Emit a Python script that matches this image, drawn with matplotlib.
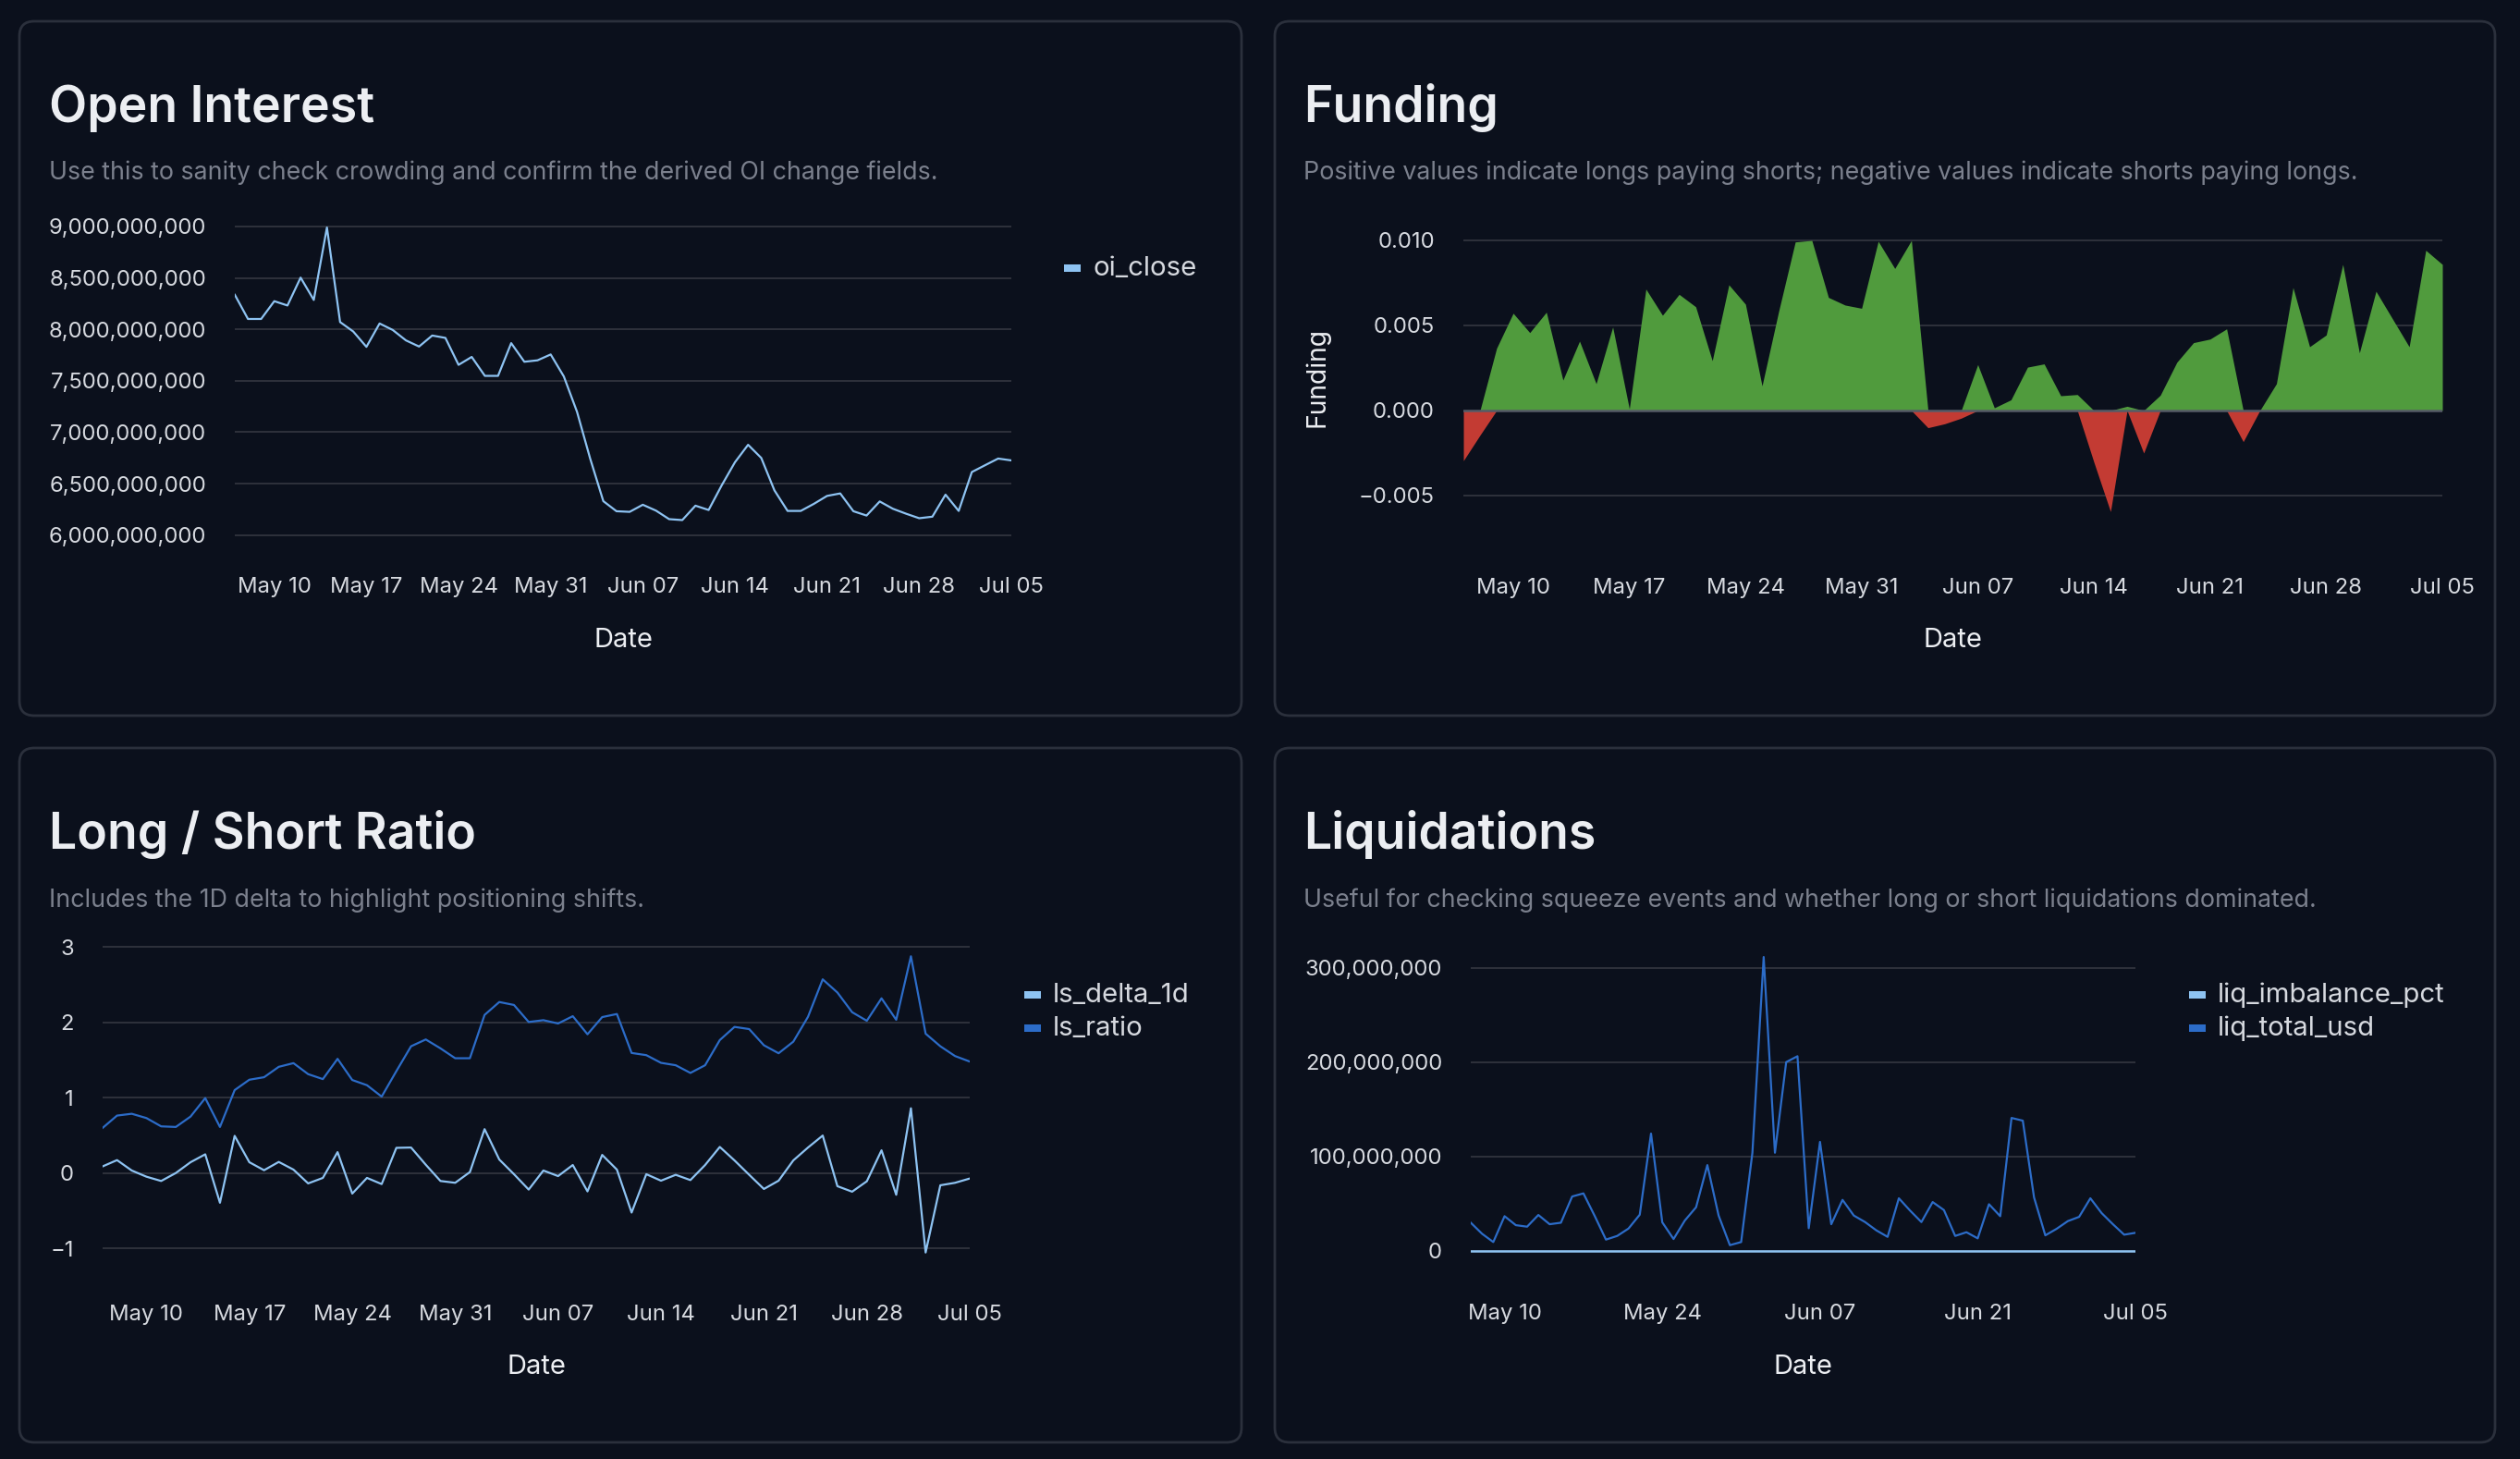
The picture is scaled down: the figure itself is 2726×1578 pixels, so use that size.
import numpy as np
import pandas as pd
import matplotlib.pyplot as plt
import matplotlib.dates as mdates
from matplotlib.patches import FancyBboxPatch, Rectangle
from matplotlib.transforms import IdentityTransform
from matplotlib.ticker import FuncFormatter

# ---------------- data ----------------
dates = pd.date_range("2026-05-07", "2026-07-05", freq="D")

oi_close = [
    8.336e9, 8.101e9, 8.101e9, 8.274e9, 8.232e9, 8.503e9, 8.286e9, 8.990e9, 8.071e9, 7.979e9,
    7.830e9, 8.057e9, 7.994e9, 7.893e9, 7.833e9, 7.940e9, 7.917e9, 7.655e9, 7.732e9, 7.548e9,
    7.548e9, 7.866e9, 7.685e9, 7.699e9, 7.756e9, 7.542e9, 7.199e9, 6.744e9, 6.330e9, 6.232e9,
    6.226e9, 6.295e9, 6.238e9, 6.155e9, 6.146e9, 6.286e9, 6.244e9, 6.485e9, 6.708e9, 6.878e9,
    6.750e9, 6.435e9, 6.235e9, 6.235e9, 6.304e9, 6.381e9, 6.405e9, 6.232e9, 6.190e9, 6.327e9,
    6.256e9, 6.208e9, 6.164e9, 6.179e9, 6.393e9, 6.235e9, 6.613e9, 6.679e9, 6.744e9, 6.726e9,
]

funding = [
    -0.00295, -0.00145, 0.00366, 0.00572, 0.00458, 0.00578, 0.00179, 0.00408, 0.00158, 0.00491,
    0.00010, 0.00714, 0.00560, 0.00683, 0.00610, 0.00293, 0.00739, 0.00625, 0.00145, 0.00583,
    0.00991, 0.01000, 0.00665, 0.00620, 0.00601, 0.00995, 0.00835, 0.01000, -0.00101, -0.00078,
    -0.00045, 0.00270, 0.00016, 0.00063, 0.00255, 0.00274, 0.00087, 0.00094, -0.00304, -0.00594,
    0.00025, -0.00250, 0.00090, 0.00284, 0.00399, 0.00420, 0.00480, -0.00183, 0.00000, 0.00158,
    0.00723, 0.00375, 0.00444, 0.00859, 0.00339, 0.00701, 0.00538, 0.00375, 0.00942, 0.00859,
]

ls_ratio = [
    0.595, 0.762, 0.786, 0.729, 0.619, 0.611, 0.749, 0.994, 0.611, 1.100,
    1.238, 1.271, 1.409, 1.458, 1.312, 1.246, 1.515, 1.234, 1.165, 1.014,
    1.352, 1.682, 1.772, 1.654, 1.523, 1.523, 2.098, 2.269, 2.230, 2.004,
    2.028, 1.984, 2.081, 1.841, 2.069, 2.110, 1.593, 1.564, 1.462, 1.430,
    1.328, 1.430, 1.764, 1.939, 1.910, 1.695, 1.589, 1.743, 2.073, 2.570,
    2.395, 2.134, 2.020, 2.318, 2.033, 2.876, 1.849, 1.682, 1.552, 1.479,
]

ls_delta_1d = [
    0.086, 0.171, 0.033, -0.049, -0.106, 0.000, 0.143, 0.248, -0.395, 0.493,
    0.143, 0.037, 0.147, 0.045, -0.138, -0.065, 0.277, -0.273, -0.065, -0.147,
    0.334, 0.338, 0.110, -0.106, -0.130, 0.012, 0.582, 0.179, -0.016, -0.220,
    0.033, -0.041, 0.106, -0.244, 0.240, 0.045, -0.525, -0.016, -0.102, -0.024,
    -0.094, 0.106, 0.346, 0.167, -0.024, -0.212, -0.102, 0.167, 0.338, 0.497,
    -0.175, -0.248, -0.110, 0.301, -0.289, 0.859, -1.055, -0.163, -0.130, -0.073,
]

liq_total_usd = [
    29.7e6, 18.0e6, 9.2e6, 36.6e6, 27.1e6, 25.5e6, 37.9e6, 28.1e6, 29.7e6, 57.5e6,
    60.8e6, 36.9e6, 11.8e6, 15.7e6, 23.5e6, 38.2e6, 124.2e6, 30.1e6, 12.4e6, 32.0e6,
    46.1e6, 90.8e6, 37.3e6, 5.9e6, 9.2e6, 103.9e6, 311.4e6, 103.9e6, 200.0e6, 206.2e6,
    23.9e6, 115.4e6, 28.1e6, 53.9e6, 37.3e6, 30.4e6, 21.6e6, 14.7e6, 55.6e6, 42.5e6,
    30.4e6, 51.6e6, 43.1e6, 15.7e6, 19.6e6, 13.1e6, 49.3e6, 36.6e6, 140.8e6, 137.9e6,
    56.5e6, 16.3e6, 23.2e6, 31.4e6, 35.9e6, 55.6e6, 39.9e6, 28.1e6, 17.0e6, 19.0e6,
]

# percent values, far too small to leave the zero line on this scale
liq_imbalance_pct = [
    0.0, 0.0, 0.0, 0.0, 0.0, 0.0, 0.0, 0.0, 0.0, 0.0,
    0.0, 0.0, 0.0, 0.0, 0.0, 0.0, 0.0, 0.0, 0.0, 0.0,
    0.0, 0.0, 0.0, 0.0, 0.0, 0.0, 0.0, 0.0, 0.0, 0.0,
    0.0, 0.0, 0.0, 0.0, 0.0, 0.0, 0.0, 0.0, 0.0, 0.0,
    0.0, 0.0, 0.0, 0.0, 0.0, 0.0, 0.0, 0.0, 0.0, 0.0,
    0.0, 0.0, 0.0, 0.0, 0.0, 0.0, 0.0, 0.0, 0.0, 0.0,
]

week_ticks = ["2026-05-10", "2026-05-17", "2026-05-24", "2026-05-31", "2026-06-07",
              "2026-06-14", "2026-06-21", "2026-06-28", "2026-07-05"]
biweek_ticks = ["2026-05-10", "2026-05-24", "2026-06-07", "2026-06-21", "2026-07-05"]

oi_yticks = [6.0e9, 6.5e9, 7.0e9, 7.5e9, 8.0e9, 8.5e9, 9.0e9]
funding_yticks = [-0.005, 0.0, 0.005, 0.010]
ls_yticks = [-1, 0, 1, 2, 3]
liq_yticks = [0, 100e6, 200e6, 300e6]

titles = ["Open Interest", "Funding", "Long / Short Ratio", "Liquidations"]
subtitles = [
    "Use this to sanity check crowding and confirm the derived OI change fields.",
    "Positive values indicate longs paying shorts; negative values indicate shorts paying longs.",
    "Includes the 1D delta to highlight positioning shifts.",
    "Useful for checking squeeze events and whether long or short liquidations dominated.",
]

# ---------------- style ----------------
W, H, DPI = 2726, 1578, 200
PT = 72.0 / DPI            # points per pixel

BG      = "#0b101c"
BORDER  = "#2b303c"
GRID    = "#2e313b"
ZERO    = "#565b67"
TITLE_C = "#eceef2"
SUB_C   = "#7b808d"
TICK_C  = "#d6d9df"
LIGHT   = "#8ec3f2"
DARK    = "#2c6cc8"
GREEN   = "#509b3d"
RED     = "#c33b33"

TICK_FS = 8.6

plt.rcParams["font.family"] = ["Inter", "DejaVu Sans"]

fig = plt.figure(figsize=(W / DPI, H / DPI), dpi=DPI, facecolor=BG)


def panel(x0, y0, x1, y1):
    box = FancyBboxPatch((x0, H - y1), x1 - x0, y1 - y0,
                         boxstyle="round,pad=0,rounding_size=16",
                         transform=IdentityTransform(),
                         facecolor=BG, edgecolor=BORDER, lw=1.0, zorder=-10)
    fig.patches.append(box)


def make_axes(x0, x1, y_top, y_bot):
    return fig.add_axes([x0 / W, 1 - y_bot / H, (x1 - x0) / W, (y_bot - y_top) / H])


def ftext(x, y, s, **kw):
    return fig.text(x / W, 1 - y / H, s, **kw)


def style(ax, xpad_px, ticks):
    ax.set_facecolor("none")
    for sp in ax.spines.values():
        sp.set_visible(False)
    ax.grid(axis="y", color=GRID, lw=0.7)
    ax.grid(axis="x", visible=False)
    ax.set_axisbelow(True)
    ax.tick_params(length=0, colors=TICK_C, labelsize=TICK_FS)
    ax.tick_params(axis="y", pad=31 * PT)
    ax.tick_params(axis="x", pad=xpad_px * PT)
    ax.set_xlim(dates[0], dates[-1])
    ax.set_xticks(pd.to_datetime(ticks))
    ax.xaxis.set_major_formatter(mdates.DateFormatter("%b %d"))


def legend(x, y, entries):
    for i, (lab, col) in enumerate(entries):
        yy = y + i * 36
        fig.patches.append(Rectangle((x, H - yy - 4), 18, 8, transform=IdentityTransform(),
                                     facecolor=col, edgecolor="none"))
        ftext(x + 31, yy, lab, color=TICK_C, fontsize=10.6, va="center", ha="left")


comma = FuncFormatter(lambda v, p: f"{v:,.0f}")

# panels
panel(21, 23, 1343, 774)
panel(1379, 23, 2699, 774)
panel(21, 809, 1343, 1560)
panel(1379, 809, 2699, 1560)

# titles / subtitles
for (x, yb, ys), t, s in zip([(53, 132, 194), (1410, 132, 194), (53, 918, 981), (1410, 918, 981)],
                            titles, subtitles):
    ftext(x, yb, t, color=TITLE_C, fontsize=19.3, fontweight="semibold", va="baseline")
    ftext(x, ys, s, color=SUB_C, fontsize=9.65, va="baseline")

# ---- Open Interest ----
ax1 = make_axes(254, 1094, 239.4, 584.3)
ax1.plot(dates, oi_close, color=LIGHT, lw=0.8)
ax1.set_ylim(5.95e9, 9.05e9)
ax1.set_yticks(oi_yticks)
ax1.yaxis.set_major_formatter(comma)
style(ax1, 40, week_ticks)
ftext(674, 700, "Date", color=TITLE_C, fontsize=10.5, ha="center", va="baseline")
legend(1151, 290, [("oi_close", LIGHT)])

# ---- Funding ----
ax2 = make_axes(1583, 2642, 250.8, 563.6)
f = np.array(funding)
ax2.fill_between(dates, 0, np.maximum(f, 0), color=GREEN, lw=0)
ax2.fill_between(dates, 0, np.minimum(f, 0), color=RED, lw=0)
ax2.axhline(0, color=ZERO, lw=0.9, zorder=3)
ax2.set_ylim(-0.0065, 0.0105)
ax2.set_yticks(funding_yticks)
ax2.yaxis.set_major_formatter(FuncFormatter(lambda v, p: f"{v:.3f}".replace("-", "\u2212")))
style(ax2, 61, week_ticks)
ax2.yaxis.get_gridlines()[1].set_visible(False)
ftext(2112, 700, "Date", color=TITLE_C, fontsize=10.5, ha="center", va="baseline")
ftext(1425, 408, "Funding", color=TITLE_C, fontsize=10.2, rotation=90,
      ha="center", va="center")

# ---- Long / Short ----
ax3 = make_axes(110.7, 1049, 1020.1, 1362.4)
ax3.plot(dates, ls_delta_1d, color=LIGHT, lw=0.8)
ax3.plot(dates, ls_ratio, color=DARK, lw=0.8)
ax3.set_ylim(-1.15, 3.05)
ax3.set_yticks(ls_yticks)
ax3.yaxis.set_major_formatter(FuncFormatter(lambda v, p: f"{v:.0f}".replace("-", "\u2212")))
style(ax3, 49, week_ticks)
ftext(580, 1486, "Date", color=TITLE_C, fontsize=10.5, ha="center", va="baseline")
legend(1108, 1076, [("ls_delta_1d", LIGHT), ("ls_ratio", DARK)])

# ---- Liquidations ----
ax4 = make_axes(1591, 2310, 1026.3, 1360.9)
ax4.plot(dates, liq_imbalance_pct, color=LIGHT, lw=0.9)
ax4.plot(dates, liq_total_usd, color=DARK, lw=0.8)
ax4.set_ylim(-8e6, 320e6)
ax4.set_yticks(liq_yticks)
ax4.yaxis.set_major_formatter(comma)
style(ax4, 49, biweek_ticks)
ftext(1950, 1486, "Date", color=TITLE_C, fontsize=10.5, ha="center", va="baseline")
legend(2368, 1076, [("liq_imbalance_pct", LIGHT), ("liq_total_usd", DARK)])

fig.savefig("out.png", dpi=DPI, facecolor=BG)
